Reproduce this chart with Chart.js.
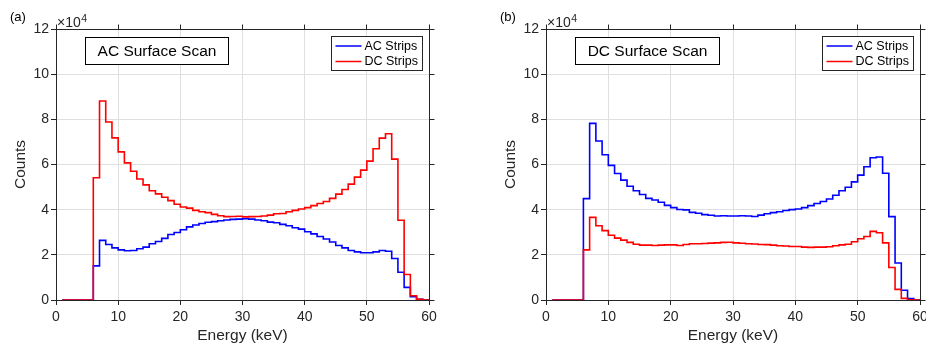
<!DOCTYPE html>
<html>
<head>
<meta charset="utf-8">
<script src="https://cdn.jsdelivr.net/npm/chart.js@4/dist/chart.umd.min.js"></script>
<style>
  html, body { margin: 0; padding: 0; background: #fff; overflow: hidden; }
  #wrap { position: relative; width: 926px; height: 343px; overflow: hidden; }
  canvas { position: absolute; top: 0; }
  #chartA { left: 0; }
  #chartB { left: 463px; }
</style>
</head>
<body>
<div id="wrap">
  <canvas id="chartA" width="463" height="343"></canvas>
  <canvas id="chartB" width="480" height="343"></canvas>
</div>
<script>
// ============================
// Data (counts per 1 keV bin)
// ============================
const energyEdges = [1, 2, 3, 4, 5, 6, 7, 8, 9, 10, 11, 12, 13, 14, 15, 16, 17, 18, 19, 20,
  21, 22, 23, 24, 25, 26, 27, 28, 29, 30, 31, 32, 33, 34, 35, 36, 37, 38, 39, 40,
  41, 42, 43, 44, 45, 46, 47, 48, 49, 50, 51, 52, 53, 54, 55, 56, 57, 58, 59, 60];

// (a) AC surface scan
const acScanAC = [0, 0, 0, 0, 0, 15100, 26400, 24600, 23100, 22200, 21800, 21900, 22700, 23400, 24900,
  25900, 27300, 29000, 29900, 31100, 32400, 33200, 33900, 34400, 34700, 35100, 35400, 35700, 35800,
  36000, 35800, 35400, 35100, 34500, 34200, 33500, 32900, 32000, 31400, 30200, 29300, 28100, 27000,
  25700, 24100, 23100, 21900, 21300, 20900, 20900, 21300, 21900, 21600, 18400, 12300, 5600, 1500, 300, 0];
const acScanDC = [0, 0, 0, 0, 0, 54100, 88100, 78800, 71800, 65600, 60700, 57000, 53600, 51000, 48400,
  47000, 45500, 44000, 42400, 41200, 40700, 39700, 39100, 38700, 37900, 37300, 36900, 37000, 37100,
  36800, 36900, 37000, 37200, 37600, 38200, 38300, 39100, 39700, 40300, 40900, 41800, 42700, 43600,
  45000, 46900, 48900, 51300, 54400, 57500, 61500, 67000, 71700, 73600, 62400, 35300, 11300, 1900, 300, 0];

// (b) DC surface scan
const dcScanAC = [0, 0, 0, 0, 0, 44900, 78200, 70400, 64300, 59600, 56000, 53100, 50400, 48400, 46700,
  45000, 44300, 43300, 41900, 40900, 40100, 39900, 38800, 38400, 37800, 37500, 37200, 37300, 37200,
  37200, 37300, 37200, 37000, 37600, 38200, 38700, 39100, 39600, 40000, 40300, 40900, 41800, 42700,
  43600, 44700, 46400, 48400, 49900, 52300, 55300, 59000, 63000, 63300, 56100, 36900, 16400, 4300, 600, 0];
const dcScanDC = [0, 0, 0, 0, 0, 22200, 36600, 32900, 30700, 28700, 27400, 26500, 25500, 24700, 24300,
  24300, 24100, 24300, 24400, 24400, 24100, 24600, 24900, 24900, 25000, 25200, 25300, 25500, 25600,
  25300, 25100, 24900, 24800, 24600, 24500, 24300, 24000, 23900, 23700, 23700, 23400, 23300, 23400,
  23400, 23600, 24000, 24400, 24700, 25800, 27100, 28100, 30400, 29800, 25300, 14400, 4700, 700, 100, 0];

const xTicks = [0, 10, 20, 30, 40, 50, 60];
const yTicks = [0, 20000, 40000, 60000, 80000, 100000, 120000];
const seriesNames = ["AC Strips", "DC Strips"];

// ============================
// Styles
// ============================
const FONT = '"Liberation Sans", Arial, Helvetica, sans-serif';
const AXIS_COLOR = "#262626";
const GRID_COLOR = "#dfdfdf";
const BLUE = "#0000ff";
const RED = "#ff0000";

Chart.defaults.font.family = FONT;
Chart.defaults.color = AXIS_COLOR;

// histogram bins -> stair points (last edge closes the final bin)
function toSteps(values) {
  const pts = values.map((v, i) => ({ x: energyEdges[i], y: v }));
  pts.push({ x: energyEdges[energyEdges.length - 1], y: values[values.length - 1] });
  return pts;
}

function crisp(v) {
  return Math.round(v + 0.5) - 0.5;
}

// Box, mirrored ticks, exponent, panel tag, title box and legend
const matlabFrame = {
  id: "matlabFrame",
  afterDraw(chart, args, opts) {
    const { ctx, chartArea: a, scales: { x, y } } = chart;
    const top = crisp(a.top), right = crisp(a.right);
    ctx.save();

    // top and right edges + outward ticks
    ctx.strokeStyle = AXIS_COLOR;
    ctx.lineWidth = 1;
    ctx.beginPath();
    ctx.moveTo(crisp(a.left), top);
    ctx.lineTo(right, top);
    ctx.lineTo(right, crisp(a.bottom));
    x.ticks.forEach(t => {
      const px = crisp(x.getPixelForValue(t.value));
      ctx.moveTo(px, top);
      ctx.lineTo(px, top - 5);
    });
    y.ticks.forEach(t => {
      const py = crisp(y.getPixelForValue(t.value));
      ctx.moveTo(right, py);
      ctx.lineTo(right + 5, py);
    });
    ctx.stroke();

    // x10^4 exponent
    ctx.fillStyle = AXIS_COLOR;
    ctx.textBaseline = "alphabetic";
    ctx.textAlign = "left";
    ctx.font = "14px " + FONT;
    ctx.fillText("\u00d710", a.left + 1, 27);
    const w10 = ctx.measureText("\u00d710").width;
    ctx.font = "10.5px " + FONT;
    ctx.fillText("4", a.left + 1.5 + w10, 22);

    // panel tag
    ctx.fillStyle = "#000";
    ctx.font = "13px " + FONT;
    ctx.textBaseline = "middle";
    ctx.fillText(opts.tag, a.left - 46, 17.5);

    // title text box
    ctx.font = "15.5px " + FONT;
    const tw = ctx.measureText(opts.title).width;
    const bx = crisp(a.left + 29), by = crisp(a.top + 8);
    const bw = Math.round(tw + 24), bh = 27;
    ctx.fillStyle = "#fff";
    ctx.fillRect(bx, by, bw, bh);
    ctx.strokeStyle = "#000";
    ctx.strokeRect(bx, by, bw, bh);
    ctx.fillStyle = "#000";
    ctx.textAlign = "center";
    ctx.fillText(opts.title, bx + bw / 2, by + bh / 2 + 0.5);

    // legend
    ctx.font = "12.5px " + FONT;
    ctx.textAlign = "left";
    const sets = chart.data.datasets;
    const maxW = Math.max(...sets.map(d => ctx.measureText(d.label).width));
    const lw = Math.round(33 + maxW + 5), lh = 34;
    const lx = crisp(a.right - 7 - lw), ly = crisp(a.top + 7.5);
    ctx.fillStyle = "#fff";
    ctx.fillRect(lx, ly, lw, lh);
    ctx.strokeStyle = AXIS_COLOR;
    ctx.strokeRect(lx, ly, lw, lh);
    sets.forEach((d, i) => {
      const rowY = ly + 9.5 + i * 15.5;
      ctx.strokeStyle = d.borderColor;
      ctx.lineWidth = 1.5;
      ctx.beginPath();
      ctx.moveTo(lx + 4, rowY);
      ctx.lineTo(lx + 30, rowY);
      ctx.stroke();
      ctx.fillStyle = "#000";
      ctx.fillText(d.label, lx + 33, rowY + 0.5);
    });

    ctx.restore();
  }
};

// ============================
// Panel builder
// ============================
function initScanChart(canvasId, acValues, dcValues, tag, title, padLeft, padRight) {
  const canvas = document.getElementById(canvasId);
  const ctx = canvas.getContext("2d");

  return new Chart(ctx, {
    type: "line",
    data: {
      datasets: [{
        label: seriesNames[0],
        data: toSteps(acValues),
        borderColor: BLUE,
        borderWidth: 1.6,
        stepped: true,
        pointRadius: 0,
        fill: false,
        order: 2
      }, {
        label: seriesNames[1],
        data: toSteps(dcValues),
        borderColor: RED,
        borderWidth: 1.6,
        stepped: true,
        pointRadius: 0,
        fill: false,
        order: 1
      }]
    },
    options: {
      responsive: false,
      animation: false,
      layout: { padding: { left: padLeft, right: padRight, top: 29, bottom: 0 } },
      plugins: {
        legend: { display: false },
        tooltip: { enabled: false },
        matlabFrame: { tag, title }
      },
      scales: {
        x: {
          type: "linear",
          min: 0,
          max: 60,
          afterBuildTicks: s => { s.ticks = xTicks.map(v => ({ value: v })); },
          afterFit: s => { s.height = 43; },
          ticks: { font: { size: 14 }, color: AXIS_COLOR, padding: 4, maxRotation: 0 },
          grid: { color: GRID_COLOR, tickColor: AXIS_COLOR, tickLength: 5 },
          border: { color: AXIS_COLOR, width: 1 },
          title: {
            display: true,
            text: "Energy (keV)",
            color: AXIS_COLOR,
            font: { size: 15.5, lineHeight: 1 },
            padding: { top: 0, bottom: 0 }
          }
        },
        y: {
          min: 0,
          max: 120000,
          afterBuildTicks: s => { s.ticks = yTicks.map(v => ({ value: v })); },
          afterFit: s => { s.width = 56; },
          ticks: {
            font: { size: 14 },
            color: AXIS_COLOR,
            padding: 2,
            callback: v => v / 10000
          },
          grid: { color: GRID_COLOR, tickColor: AXIS_COLOR, tickLength: 5 },
          border: { color: AXIS_COLOR, width: 1 },
          title: {
            display: true,
            text: "Counts",
            color: AXIS_COLOR,
            font: { size: 15.5, lineHeight: 1 },
            padding: { top: 13, bottom: 0 }
          }
        }
      }
    },
    plugins: [matlabFrame]
  });
}

initScanChart("chartA", acScanAC, acScanDC, "(a)", "AC Surface Scan", 0, 34);
initScanChart("chartB", dcScanAC, dcScanDC, "(b)", "DC Surface Scan", 27, 23);
</script>
</body>
</html>
